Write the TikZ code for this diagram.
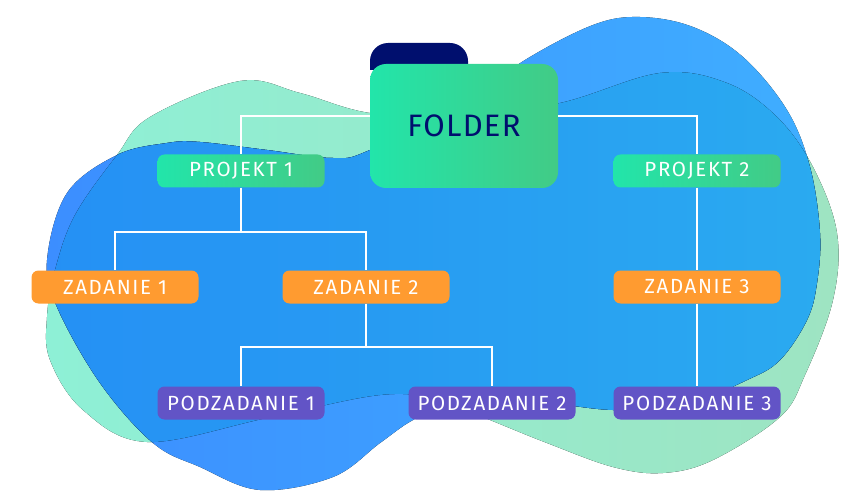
\documentclass[tikz,border=0pt]{standalone}
\usepackage{fontspec}
\setmainfont{Fira Sans}[LetterSpace=4]
\newfontfamily\etichetta{Fira Sans}[LetterSpace=8]
\usepackage{tikz}
\usetikzlibrary{positioning}

\definecolor{mintL}{HTML}{8EF0D6}
\definecolor{mintR}{HTML}{9EE4C2}
\definecolor{bluL}{HTML}{3C8EFF}
\definecolor{bluR}{HTML}{3FAEFF}
\definecolor{profL}{HTML}{2590F4}
\definecolor{profR}{HTML}{2AAAF0}
\definecolor{verdeL}{HTML}{22E5AA}
\definecolor{verdeR}{HTML}{42CB86}
\definecolor{arancio}{HTML}{FF9B30}
\definecolor{viola}{HTML}{6254C6}
\definecolor{navy}{HTML}{000F6E}

\tikzset{
  macchia menta/.style={insert path={plot[smooth cycle, tension=0.6] coordinates {
    (117,155) (150,117) (240,81) (300,93) (370,113) (460,116) (560,103) (660,73)
    (727,83) (777,117) (813,167) (837,233) (833,300) (805,375) (780,417) (713,460)
    (663,473) (613,467) (547,443) (490,420) (440,400) (380,395) (267,418) (147,442)
    (83,410) (50,360) (47,317) (55,270) (75,215)}}},
  macchia blu/.style={insert path={plot[smooth cycle, tension=0.6] coordinates {
    (47,260) (67,193) (117,155) (167,143) (200,142) (267,150) (333,158) (370,150)
    (470,100) (525,60) (593,25) (640,17) (693,27) (743,57) (787,110) (810,167)
    (820,233) (817,283) (807,320) (780,360) (747,380) (680,407) (613,410) (547,403)
    (490,402) (450,405) (413,420) (380,443) (333,477) (260,490) (200,467) (153,443)
    (100,383) (57,307)}}},
  nodo/.style={rounded corners=7pt, minimum width=167pt, minimum height=33pt,
    inner sep=0pt, text=white, font=\etichetta\fontsize{20.5}{24}\selectfont},
  progetto/.style={nodo, left color=verdeL, right color=verdeR},
  compito/.style={nodo, fill=arancio},
  sottocompito/.style={nodo, fill=viola},
  linea/.style={white, line width=1.5pt},
}

\begin{document}
\begin{tikzpicture}[x=1pt, y=-1pt]
    \useasboundingbox (0,0) rectangle (855,500);
    % sfondo
    \fill[left color=mintL, right color=mintR, macchia menta];
    \fill[left color=bluL, right color=bluR, macchia blu];
    \begin{scope}
        \clip[macchia menta];
        \fill[left color=profL, right color=profR, macchia blu];
    \end{scope}

    % cartella
    \fill[navy] (370,70) [rounded corners=18pt] -- (370,43) -- (468,43) [sharp corners] -- (468,70) -- cycle;
    \node[rounded corners=16pt, minimum width=188pt, minimum height=124pt, inner sep=0pt,
          left color=verdeL, right color=verdeR, text=navy, font=\fontsize{31}{36}\selectfont]
          (folder) at (464,126) {FOLDER};

    \node[progetto] (proj1) at (241,171) {PROJEKT 1};
    \node[progetto] (proj2) at (697,171) {PROJEKT 2};
    \node[compito] (zad1) at (115,287) {ZADANIE 1};
    \node[compito] (zad2) at (366,287) {ZADANIE 2};
    \node[compito] (zad3) at (697,287) {ZADANIE 3};
    \node[sottocompito] (pod1) at (241,403) {PODZADANIE 1};
    \node[sottocompito] (pod2) at (492,403) {PODZADANIE 2};
    \node[sottocompito] (pod3) at (697,403) {PODZADANIE 3};

    \coordinate (b1) at (241,232); % ramo progetto 1
    \coordinate (b2) at (366,347); % ramo zadanie 2

    \draw[linea] ([yshift=10pt]folder.west) -| (proj1);
    \draw[linea] ([yshift=10pt]folder.east) -| (proj2);
    \draw[linea] (proj1) -- (b1) -| (zad1);
    \draw[linea] (b1) -| (zad2);
    \draw[linea] (zad2) -- (b2) -| (pod1);
    \draw[linea] (b2) -| (pod2);
    \draw[linea] (proj2) -- (zad3);
    \draw[linea] (zad3) -- (pod3);
\end{tikzpicture}
\end{document}
